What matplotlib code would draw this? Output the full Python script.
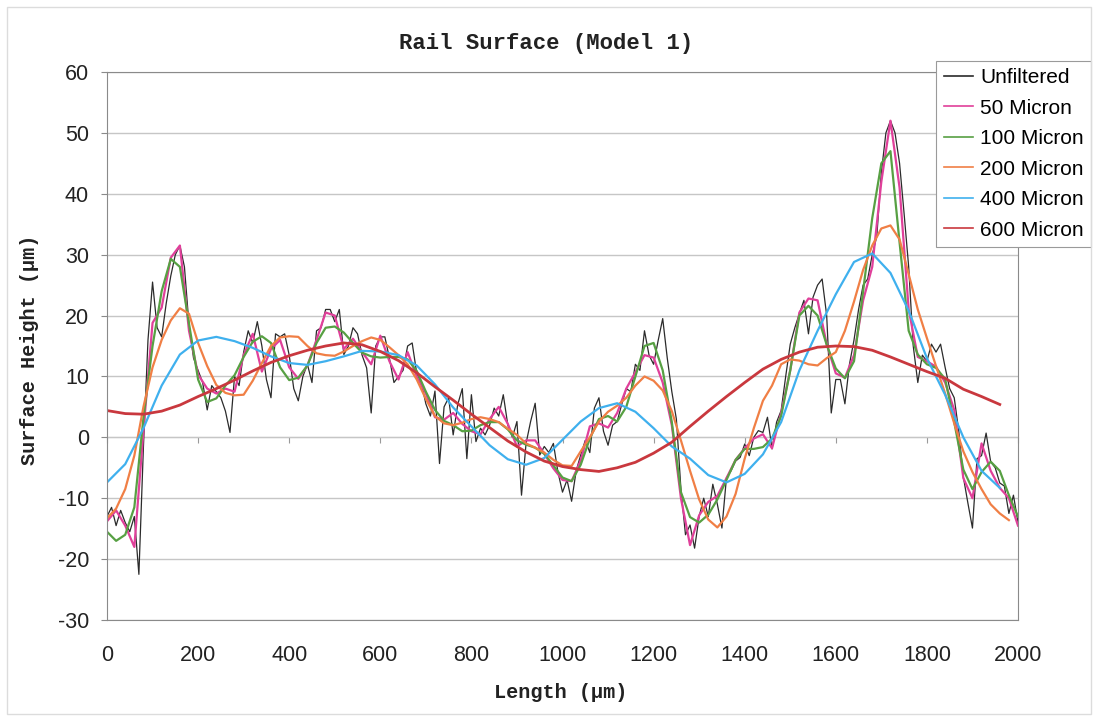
import numpy as np
import matplotlib
matplotlib.use('Agg')
import matplotlib.pyplot as plt
from matplotlib.patches import Rectangle

plt.rcParams['axes.unicode_minus'] = False

# Rail surface height profile, raw and filtered (values in um)
x_raw = np.arange(0, 2001, 10)
unfiltered = [
    -13, -11.5, -14.5, -12, -14, -15.5, -13, -22.5, -1.5, 16,
    25.5, 18, 16.5, 22, 26.5, 30, 31.5, 28, 18.5, 13,
    11, 9, 4.5, 8.5, 7.5, 6.5, 4.3, 0.8, 10, 8.5,
    14, 17.5, 15.5, 19, 15, 9.5, 6.5, 17, 16.5, 17,
    13.5, 8, 6, 10, 12, 9, 17.5, 18, 21, 21,
    19, 21, 13.6, 15, 18, 17, 13.5, 11.4, 4, 15,
    16.5, 16.5, 13, 9, 10, 11, 15, 15.5, 10.5, 9,
    5.5, 3.5, 7.6, -4.3, 5, 6.5, 0.4, 5.4, 8, -3.5,
    7, -0.7, 1.5, 0.4, 2, 4.8, 3.5, 7, 2, 0,
    2.6, -9.5, -1, 2.6, 5.6, -2.9, -1.5, -2.5, -1, -5.7,
    -9, -7, -10.5, -5.5, -2.9, -0.5, -2.5, 4.8, 6.5, 1,
    -1.3, 2, 2.6, 5.4, 8, 7.5, 12, 11, 17.5, 13.5,
    12, 15.9, 19.5, 13, 7.5, 3, -8.5, -16, -14.4, -18.2,
    -13, -10, -13, -7.7, -11, -14.9, -6.6, -5.5, -3.9, -3.3,
    -1.1, -3, 0, 1.1, 0.8, 3.3, -1.9, 2.5, 4.4, 10,
    15.3, 18, 20.3, 22.5, 17, 23, 25, 26, 20, 4,
    9.5, 9.5, 5.5, 12, 16, 21, 25, 26, 30, 33,
    43.5, 50, 52, 50, 45, 36.7, 28, 15, 9, 13.5,
    12.5, 15.3, 14, 15.3, 11.5, 8, 6.5, 1, -6.5, -10.8,
    -14.9, -3.5, -3, 0.7, -4, -5, -7.5, -8, -12.5, -9.5,
    -14,
]

x_50 = np.arange(0, 2001, 20)
micron_50 = [
    -13.8, -12, -14.5, -18, 1, 18.8, 21.3, 29.5, 31.5, 17.5,
    10.3, 8, 7.2, 8, 7.5, 13.5, 17, 10.8, 14.5, 16,
    11.5, 9.6, 11.8, 16, 20.5, 20, 14.5, 16.2, 14, 12,
    16.7, 12.5, 9.5, 14, 10, 7.2, 3.3, 2.9, 4, 2.2,
    1, 0.5, 3, 5, 2.2, -1.5, -0.5, -0.5, -2.7, -5.1,
    -7, -7.2, -3.8, 1.8, 2.3, 1.6, 4, 8, 10.7, 13.5,
    13.1, 9, 2, -10, -17.7, -12.8, -10.6, -9.6, -6.7, -3.7,
    -1.8, -0.2, 0.5, -1.8, 4, 11, 20.5, 22.8, 22.5, 15.3,
    10.5, 9.8, 13.5, 22.5, 28, 42, 52, 41, 21, 13.2,
    12.5, 11.6, 9, 4.5, -6.7, -10, -1, -5.5, -8.3, -10,
    -14.5,
]

x_100 = np.arange(0, 2001, 20)
micron_100 = [
    -15.5, -17, -16, -11.5, 3.2, 15, 24, 29.3, 28, 18.7,
    9.5, 5.8, 6.4, 8.5, 10.2, 13.2, 15.7, 16.6, 15.5, 11.5,
    9.4, 9.8, 11.8, 15.5, 18, 18.2, 17.2, 15.5, 13.9, 13.3,
    13.1, 13.2, 13.2, 12.8, 10.9, 7.5, 4.5, 2.7, 2, 1,
    1.1, 2, 2.5, 2.5, 1.3, -0.5, -1.2, -1.7, -2.7, -4.6,
    -6.6, -7.2, -4.5, -0.2, 3, 3.5, 2.6, 5, 10, 15,
    15.5, 11, 2.5, -9, -13.1, -14, -12.7, -10.2, -7, -3.7,
    -1.9, -1.9, -1.6, -0.2, 3.5, 11, 20, 21.6, 20, 15.2,
    11.3, 9.7, 12.5, 24, 36, 45, 47, 32, 17.5, 13.6,
    12, 11.4, 9.6, 2.5, -5.3, -8.5, -5.7, -4, -5.5, -9.5,
    -13,
]

x_200 = np.arange(0, 1981, 20)
micron_200 = [
    -13.3, -11.7, -8.5, -3, 5, 11.5, 16, 19.2, 21.2, 20.3,
    15.5, 11.7, 8.6, 7.3, 6.9, 7, 9.3, 12.2, 15, 16.4,
    16.6, 16.5, 15, 13.8, 13.5, 13.4, 14.1, 15, 15.8, 16.4,
    16, 14.8, 13.5, 12, 9.5, 6.3, 3.5, 2.3, 2, 2.4,
    3, 3.3, 3, 2.5, 1.4, 0.4, -1, -1.7, -2.5, -3.7,
    -4.6, -4.7, -2.3, 0, 2.6, 4.2, 5.2, 6.5, 8.5, 10,
    9.3, 7.7, 4.3, -0.5, -5.5, -10.2, -13.5, -14.8, -13, -9.3,
    -3.5, 1.5, 6, 8.5, 12, 12.8, 12.6, 12, 11.8, 13,
    14, 17.5, 22.3, 27.5, 31.5, 34.3, 34.8, 32.5, 26.8, 21,
    16.3, 11.7, 7.2, 2.3, -2.3, -5.7, -8.5, -11, -12.5, -13.6,
]

x_400 = np.arange(0, 1961, 40)
micron_400 = [
    -7.4, -4.4, 1.5, 8.5, 13.6, 15.9, 16.5, 15.8, 14.7, 13.3,
    12.2, 11.9, 12.5, 13.3, 14.2, 14.1, 13.5, 11.8, 8.7, 4.9,
    1.8, -1.3, -3.6, -4.5, -3.4, -0.4, 2.6, 4.8, 5.6, 4.2,
    1.5, -1.5, -3.5, -6.2, -7.4, -6, -2.8, 2.5, 11, 17.5,
    23.5, 28.8, 30.2, 27, 20.8, 13, 7, 0, -5.5, -8.3,
]

x_600 = np.arange(0, 1961, 40)
micron_600 = [
    4.4, 3.9, 3.8, 4.3, 5.3, 6.7, 8, 9.4, 10.9, 12.3,
    13.4, 14.3, 15, 15.5, 15.2, 14.1, 12.6, 10.6, 8.3, 6.1,
    3.8, 1.6, -0.6, -2.4, -3.9, -4.8, -5.3, -5.6, -5, -4.1,
    -2.6, -0.8, 1.8, 4.3, 6.7, 9, 11.2, 12.8, 14, 14.8,
    15, 14.9, 14.3, 13.2, 12, 10.8, 9.7, 7.9, 6.7, 5.4,
]

series = [
    (x_raw, unfiltered, 'Unfiltered', '#2b2b2b', 0.9),
    (x_50, micron_50, '50 Micron', '#e0409a', 1.6),
    (x_100, micron_100, '100 Micron', '#57a043', 1.6),
    (x_200, micron_200, '200 Micron', '#f07f45', 1.6),
    (x_400, micron_400, '400 Micron', '#3fb0ee', 1.6),
    (x_600, micron_600, '600 Micron', '#c9383e', 2.0),
]

sans = 'Liberation Sans'
mono = 'Liberation Mono'

fig = plt.figure(figsize=(10.98, 7.21), dpi=100)
ax = fig.add_axes([107/1098, 1 - 620/721, 911/1098, 548/721])

for x, y, name, col, lw in series:
    ax.plot(x, y, color=col, lw=lw, label=name)

ax.set_xlim(0, 2000)
ax.set_ylim(-30, 60)
ax.set_xticks(range(0, 2001, 200))
ax.set_yticks(range(-30, 61, 10))
ax.grid(axis='y', color='#c6c6c6', lw=1)
ax.set_axisbelow(True)
for s in ax.spines.values():
    s.set_color('#8a8a8a')
ax.tick_params(axis='x', length=0, pad=18, labelsize=15.5, labelcolor='#222')
ax.tick_params(axis='y', length=4, color='#8a8a8a', pad=9, labelsize=15.5, labelcolor='#222')
for lab in ax.get_xticklabels() + ax.get_yticklabels():
    lab.set_family(sans)

# category axis crosses at zero, labels stay at the bottom
secax = ax.secondary_xaxis(0, transform=ax.transData)
secax.set_xticks(range(0, 2001, 200))
secax.tick_params(length=4, color='#9a9a9a', labelbottom=False)
secax.spines['bottom'].set_color('#9a9a9a')

fig.text(546/1098, 1 - 44/721, 'Rail Surface (Model 1)', ha='center', va='center',
         family=mono, weight='bold', size=16, color='#222')
fig.text(561/1098, 1 - 693/721, 'Length (\u00b5m)', ha='center', va='center',
         family=mono, weight='bold', size=14.5, color='#222')
fig.text(30/1098, 1 - 350/721, 'Surface Height (\u00b5m)', ha='center', va='center',
         rotation=90, family=mono, weight='bold', size=14.5, color='#222')

leg = ax.legend(loc='upper right', bbox_to_anchor=(1091/1098, 1 - 61/721),
                bbox_transform=fig.transFigure, borderaxespad=0, frameon=True,
                fancybox=False, framealpha=1, edgecolor='#9a9a9a',
                prop={'family': sans, 'size': 15}, handlelength=1.4,
                handletextpad=0.35, labelspacing=0.55, borderpad=0.35)
leg.get_frame().set_linewidth(0.8)
for h in leg.get_lines():
    h.set_linewidth(1.2)

# light border round the whole chart area
fig.add_artist(Rectangle((0.006, 0.01), 0.988, 0.98, transform=fig.transFigure,
                         fill=False, ec='#dcdcdc', lw=1))

fig.savefig('out.png', dpi=100)
